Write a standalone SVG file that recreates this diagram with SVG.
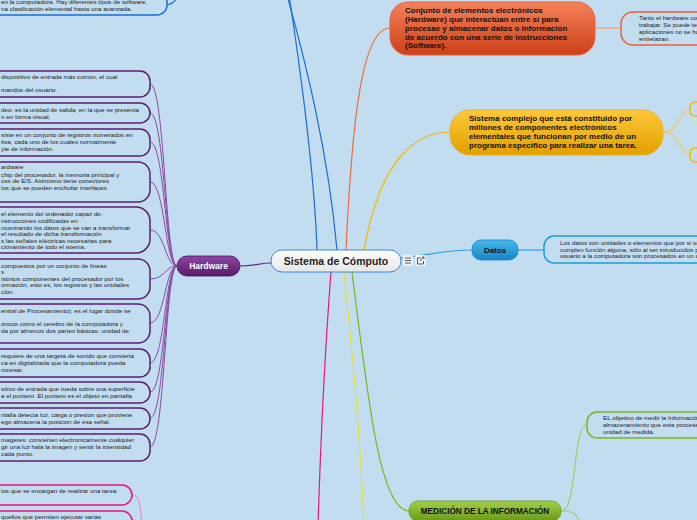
<svg xmlns="http://www.w3.org/2000/svg" width="697" height="520" viewBox="0 0 697 520">
<defs>
<linearGradient id="gCenter" x1="0" y1="0" x2="0" y2="1"><stop offset="0" stop-color="#ffffff"/><stop offset="1" stop-color="#e6e6e6"/></linearGradient>
<linearGradient id="gHw" x1="0" y1="0" x2="0" y2="1"><stop offset="0" stop-color="#8e45a3"/><stop offset="1" stop-color="#5a1b6c"/></linearGradient>
<linearGradient id="gDatos" x1="0" y1="0" x2="0" y2="1"><stop offset="0" stop-color="#47b9ee"/><stop offset="1" stop-color="#1784c6"/></linearGradient>
<linearGradient id="gMed" x1="0" y1="0" x2="0" y2="1"><stop offset="0" stop-color="#a2d046"/><stop offset="1" stop-color="#6b9a1c"/></linearGradient>
<linearGradient id="gOr" x1="0" y1="0" x2="0" y2="1"><stop offset="0" stop-color="#f5825a"/><stop offset="1" stop-color="#cc3f16"/></linearGradient>
<linearGradient id="gYe" x1="0" y1="0" x2="0" y2="1"><stop offset="0" stop-color="#fdc83a"/><stop offset="1" stop-color="#e2a000"/></linearGradient>
</defs>
<style>
text{font-family:"Liberation Sans",Arial,sans-serif;}
.leaf{font-size:6.25px;fill:#222;}
.big{font-size:8px;font-weight:bold;fill:#111;}
.lp{fill:#c3ddf0;stroke:#5c1c70;stroke-width:1.5;}
.lpk{fill:#c3ddf0;stroke:#e8157a;stroke-width:1.5;}
.c{fill:none;stroke-width:1.2;}
</style>
<rect width="697" height="520" fill="#c3ddf0"/>

<g id="connectors">
<path class="c" stroke="#1a6fd0" stroke-width="1.6" d="M337,250 C328,150 305,60 287,-5"/>
<path class="c" stroke="#1a6fd0" stroke-width="1.4" d="M317,250 C315,190 305,100 289,-5"/>
<path class="c" stroke="#1a6fd0" d="M167,5 C172,4 175,2 178,-5"/>
<path class="c" stroke="#f06a3a" d="M346,250 C352,120 362,28 390,28"/>
<path class="c" stroke="#f5b800" d="M364,250 C380,160 415,132 450,132"/>
<path class="c" stroke="#2aa0e0" d="M401,258 C430,255 445,250 472,250"/>
<path class="c" stroke="#7ab51d" d="M352,272 C368,400 380,511 409,511"/>
<path class="c" stroke="#e8e030" stroke-width="1.5" d="M344,272 C352,350 360,430 364,525"/>
<path class="c" stroke="#e8157a" stroke-width="1.5" d="M331,272 C325,350 321,430 318,525"/>
<path class="c" stroke="#6a2a80" d="M240,266 C255,266 260,263 271,263"/>
<path class="c" stroke="#f5a060" d="M595,28 L621,28"/>
<path class="c" stroke="#f5c850" d="M663,132 C680,132 680,109 690,109 M663,132 C680,132 680,155 690,155"/>
<path class="c" stroke="#2aa0e0" d="M518,250 L544,250"/>
<path class="c" stroke="#a0cc60" d="M561,511 C578,511 572,425 587,425 M561,511 C575,511 578,515 580,525"/>
<g stroke="#8a4aa0" fill="none" stroke-width="1">
<path d="M177,266 C165,266 165,84 150,84"/>
<path d="M177,266 C165,266 165,113 150,113"/>
<path d="M177,266 C165,266 165,142 150,142"/>
<path d="M177,266 C165,266 165,182 150,182"/>
<path d="M177,266 C165,266 165,230 150,230"/>
<path d="M177,266 C165,266 165,279 150,279"/>
<path d="M177,266 C165,266 165,323 150,323"/>
<path d="M177,266 C165,266 165,363 150,363"/>
<path d="M177,266 C165,266 165,392 150,392"/>
<path d="M177,266 C165,266 165,418 150,418"/>
<path d="M177,266 C165,266 165,447 150,447"/>
</g>
<g stroke="#f07ab0" fill="none" stroke-width="1">
<path d="M132,495 C140,495 140,505 142,525"/>
<path d="M132,520 C138,520 140,522 142,525"/>
</g>
</g>

<g id="n-software-leaf">
<rect x="-20" y="-10" width="187" height="25" rx="10" fill="#c3ddf0" stroke="#1a6fd0" stroke-width="1.5"/>
<text class="leaf" x="1" y="4">en la computadora. Hay diferentes tipos de software,</text>
<text class="leaf" x="1" y="11">na clasificación elemental hasta una avanzada.</text>
</g>

<g id="n-hw1"><rect class="lp" x="-20" y="71" width="170" height="26" rx="10"/>
<text class="leaf" x="1" y="79">dispositivo de entrada más común, el cual</text>
<text class="leaf" x="1" y="92">mandos del usuario.</text></g>
<g id="n-hw2"><rect class="lp" x="-20" y="103" width="170" height="20" rx="10"/>
<text class="leaf" x="1" y="112">deo: es la unidad de salida, en la que se presenta</text>
<text class="leaf" x="1" y="119">n en forma visual.</text></g>
<g id="n-hw3"><rect class="lp" x="-20" y="129" width="170" height="27" rx="10"/>
<text class="leaf" x="1" y="137">siste en un conjunto de registros numerados en</text>
<text class="leaf" x="1" y="144">tiva, cada uno de los cuales normalmente</text>
<text class="leaf" x="1" y="151">yte de información.</text></g>
<g id="n-hw4"><rect class="lp" x="-20" y="162" width="170" height="40" rx="12"/>
<text class="leaf" x="1" y="169">ardware</text>
<text class="leaf" x="1" y="177"> chip del procesador, la memoria principal y</text>
<text class="leaf" x="1" y="183">ces de E/S. Asimismo tiene conectores</text>
<text class="leaf" x="1" y="190">los que se pueden enchufar interfaces</text></g>
<g id="n-hw5"><rect class="lp" x="-20" y="207" width="170" height="46" rx="14"/>
<text class="leaf" x="1" y="216">el elemento del ordenador capaz de:</text>
<text class="leaf" x="1" y="223">nstrucciones codificadas en</text>
<text class="leaf" x="1" y="230">ncontrando los datos que se van a transformar</text>
<text class="leaf" x="1" y="236">el resultado de dicha transformación</text>
<text class="leaf" x="1" y="243">s las señales eléctricas necesarias para</text>
<text class="leaf" x="1" y="249">cionamiento de todo el istema.</text></g>
<g id="n-hw6"><rect class="lp" x="-20" y="259" width="170" height="40" rx="12"/>
<text class="leaf" x="1" y="268">compuestos por un conjunto de líneas</text>
<text class="leaf" x="1" y="274">s</text>
<text class="leaf" x="1" y="281">istintos componentes del procesador por los</text>
<text class="leaf" x="1" y="287">ormación, esto es, los registros y las unidades</text>
<text class="leaf" x="1" y="294">ción.</text></g>
<g id="n-hw7"><rect class="lp" x="-20" y="304" width="170" height="39" rx="12"/>
<text class="leaf" x="1" y="313">entral de Procesamiento): es el lugar donde se</text>
<text class="leaf" x="1" y="326">onoce como el cerebro de la computadora y</text>
<text class="leaf" x="1" y="333">da por almenos dos partes básicas: unidad de</text></g>
<g id="n-hw8"><rect class="lp" x="-20" y="349" width="170" height="28" rx="10"/>
<text class="leaf" x="1" y="358">requiere de una targeta de sonido que convierta</text>
<text class="leaf" x="1" y="365">ca en digitalizada que la computadora pueda</text>
<text class="leaf" x="1" y="372">rocesar.</text></g>
<g id="n-hw9"><rect class="lp" x="-20" y="382" width="170" height="21" rx="10"/>
<text class="leaf" x="1" y="391">sitivo de entrada que rueda sobre una superficie</text>
<text class="leaf" x="1" y="398">a el puntero. El puntero es el objeto en pantalla</text></g>
<g id="n-hw10"><rect class="lp" x="-20" y="408" width="170" height="21" rx="10"/>
<text class="leaf" x="1" y="417">ntalla detecta luz, carga o presion que proviene</text>
<text class="leaf" x="1" y="424">ego almacena la posicion de esa señal.</text></g>
<g id="n-hw11"><rect class="lp" x="-20" y="434" width="170" height="27" rx="10"/>
<text class="leaf" x="1" y="442">mageres: convierten electronicamente cualquier</text>
<text class="leaf" x="1" y="449">gir una luz hala la imagen y sentir la intensidad</text>
<text class="leaf" x="1" y="456">cada punto.</text></g>

<g id="n-sw1"><rect class="lpk" x="-20" y="485" width="152" height="20" rx="10"/>
<text class="leaf" x="1" y="493">los que se encargan de realizar una tarea</text></g>
<g id="n-sw2"><rect class="lpk" x="-20" y="511" width="152" height="20" rx="10"/>
<text class="leaf" x="1" y="519">quellos qué permiten ejecutar varias</text></g>

<g id="n-hardware">
<rect x="177" y="256" width="63" height="20" rx="10" fill="url(#gHw)" stroke="#4a1060" stroke-width="0.8"/>
<text x="208.5" y="269" text-anchor="middle" font-size="8.5" font-weight="bold" fill="#fff">Hardware</text>
</g>

<g id="n-center">
<rect x="271" y="250" width="130" height="22" rx="11" fill="url(#gCenter)" stroke="#3a8ad0" stroke-width="1"/>
<text x="336" y="264.5" text-anchor="middle" font-size="10.5" font-weight="bold" fill="#222">Sistema de Cómputo</text>
<rect x="403" y="255" width="10" height="11" rx="1" fill="#eef2f6"/>
<path d="M405,258 h6 M405,260.5 h6 M405,263 h6" stroke="#333" stroke-width="0.8"/>
<rect x="415" y="255" width="11" height="11" rx="1" fill="#eef2f6"/>
<path d="M421,258 h-3.5 v6 h6 v-3 M420,261 l4,-4 M422,257 h2 v2" stroke="#333" stroke-width="0.8" fill="none"/>
</g>

<g id="n-def">
<rect x="390" y="2" width="205" height="53" rx="18" fill="url(#gOr)" stroke="#e8603a" stroke-width="1"/>
<text class="big" x="405" y="13">Conjunto de elementos electrónicos</text>
<text class="big" x="405" y="22">(Hardware) que interactúan entre sí para</text>
<text class="big" x="405" y="31">procesae y almacenar datos o información</text>
<text class="big" x="405" y="39.5">de acuerdo con una serie de instrucciones</text>
<text class="big" x="405" y="48">(Software).</text>
</g>
<g id="n-def-leaf">
<rect x="621" y="12" width="100" height="33" rx="12" fill="#c3ddf0" stroke="#e8603a" stroke-width="1.5"/>
<text class="leaf" x="639" y="20">Tanto el hardware co</text>
<text class="leaf" x="639" y="27">trabajar. Se puede te</text>
<text class="leaf" x="639" y="34">aplicaciones no se ha</text>
<text class="leaf" x="639" y="41">entrelazan.</text>
</g>

<g id="n-sys">
<rect x="450" y="110" width="213" height="45" rx="20" fill="url(#gYe)" stroke="#f0b020" stroke-width="1"/>
<text class="big" x="469" y="121" font-size="7.8">Sistema complejo que está constituido por</text>
<text class="big" x="469" y="130" font-size="7.8">millones de componentes electrónicos</text>
<text class="big" x="469" y="139" font-size="7.8">elementales que funcionan por medio de un</text>
<text class="big" x="469" y="148" font-size="7.8">programa específico para realizar una tarea.</text>
</g>
<g id="n-sys-a"><rect x="690" y="102" width="20" height="14" rx="5" fill="#c3ddf0" stroke="#f5b800" stroke-width="1.5"/></g>
<g id="n-sys-b"><rect x="690" y="148" width="20" height="14" rx="5" fill="#c3ddf0" stroke="#f5b800" stroke-width="1.5"/></g>

<g id="n-datos">
<rect x="472" y="240" width="46" height="20" rx="9" fill="url(#gDatos)" stroke="#1a86c8" stroke-width="0.8"/>
<text x="495" y="253" text-anchor="middle" font-size="8" font-weight="bold" fill="#111">Datos</text>
</g>
<g id="n-datos-leaf">
<rect x="544" y="236" width="170" height="27" rx="10" fill="#c3ddf0" stroke="#1e9ad8" stroke-width="1.5"/>
<text class="leaf" x="560" y="245">Los datos son unidades o elementos que por sí so</text>
<text class="leaf" x="560" y="251.5">cumplen función alguna; sólo al ser introducidos p</text>
<text class="leaf" x="560" y="258">usuario a la computadora son procesados en un a</text>
</g>

<g id="n-med">
<rect x="409" y="501" width="152" height="20" rx="9" fill="url(#gMed)" stroke="#6a9a1c" stroke-width="0.8"/>
<text x="485" y="514" text-anchor="middle" font-size="8.2" font-weight="bold" fill="#111">MEDICIÓN DE LA INFORMACIÓN</text>
</g>
<g id="n-med-leaf">
<rect x="587" y="412" width="120" height="26" rx="10" fill="#c3ddf0" stroke="#7ab51d" stroke-width="1.5"/>
<text class="leaf" x="603" y="420">EL objetivo de medir la Informació</text>
<text class="leaf" x="603" y="427">almacenamiento que esta procesa</text>
<text class="leaf" x="603" y="434">unidad de medida.</text>
</g>
</svg>
